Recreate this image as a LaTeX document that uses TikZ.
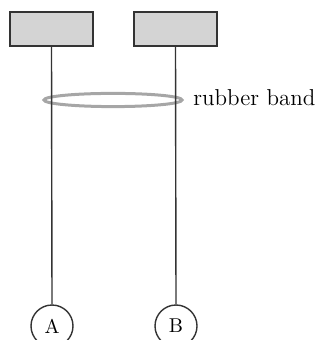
\documentclass[tikz,border=0pt]{standalone}
\begin{document}
\begin{tikzpicture}[x=0.5pt,y=-0.5pt,
    support/.style={draw=black!80,fill=black!17,line width=1pt,minimum width=41.5pt,minimum height=17pt,inner sep=0pt},
    ball/.style={circle,draw=black!80,line width=0.7pt,minimum size=21pt,inner sep=0pt,font=\fontsize{10}{12}\selectfont}]
    \useasboundingbox (0,0) rectangle (321,340);
    % Supports
    \node[support] (supA) at (51.5,29) {};
    \node[support] (supB) at (175.5,29) {};
    % Charged spheres
    \node[ball] (A) at (52,326) {A};
    \node[ball] (B) at (176,326) {B};
    % Rubber band
    \draw[black!35,line width=1.5pt] (113,100) ellipse [x radius=34.5pt,y radius=3.3pt];
    \node[anchor=base west,inner sep=0pt,font=\fontsize{11.5}{13}\selectfont] (band) at (193,106) {rubber band};
    % Threads
    \draw[black!80,line width=0.7pt] (supA.south) -- (A.north);
    \draw[black!80,line width=0.7pt] (supB.south) -- (B.north);
\end{tikzpicture}
\end{document}
